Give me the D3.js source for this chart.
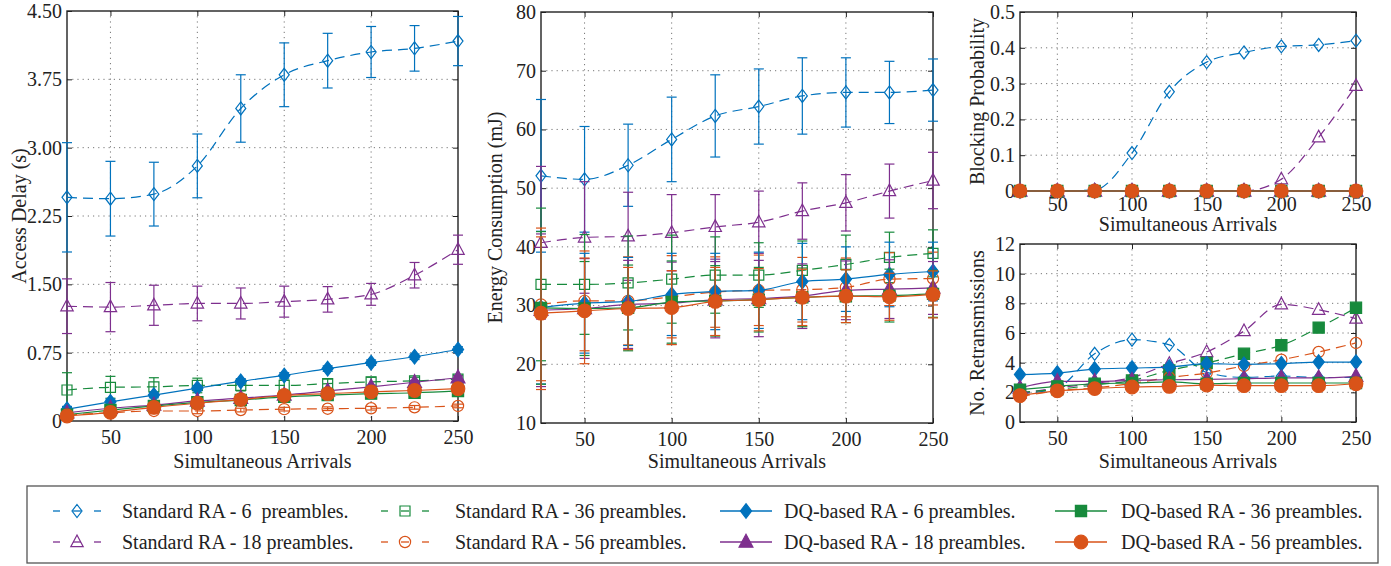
<!DOCTYPE html>
<html>
<head>
<meta charset="utf-8">
<script src="https://cdn.jsdelivr.net/npm/d3@7"></script>
<style>
  body { margin: 0; background: #fff; }
  text { font-family: "Liberation Serif", "Times New Roman", serif; fill: #222; }
</style>
</head>
<body>
<script>
// x values shared by every panel
var arrivals = [25, 50, 75, 100, 125, 150, 175, 200, 225, 250];
var xTicks = [50, 100, 150, 200, 250];

// series order: Std 6, Std 18, Std 36, Std 56, DQ 6, DQ 18, DQ 36, DQ 56
var seriesNames = [
  "Standard RA - 6  preambles.", "Standard RA - 18 preambles.",
  "Standard RA - 36 preambles.", "Standard RA - 56 preambles.",
  "DQ-based RA - 6 preambles.", "DQ-based RA - 18 preambles.",
  "DQ-based RA - 36 preambles.", "DQ-based RA - 56 preambles."
];
var seriesColors = ["#0072BD", "#7E2F8E", "#178A3C", "#D95319", "#0072BD", "#7E2F8E", "#178A3C", "#D95319"];
var seriesMarkers = ["diamond", "triangle", "square", "circle", "diamond", "triangle", "square", "circle"];

// access delay (s)
var delayMean = [
  [2.455, 2.44, 2.49, 2.80, 3.43, 3.80, 3.955, 4.05, 4.09, 4.17],
  [1.26, 1.25, 1.27, 1.29, 1.29, 1.31, 1.335, 1.39, 1.60, 1.88],
  [0.34, 0.37, 0.375, 0.39, 0.39, 0.39, 0.41, 0.43, 0.44, 0.46],
  [0.065, 0.09, 0.11, 0.11, 0.12, 0.13, 0.135, 0.14, 0.15, 0.165],
  [0.13, 0.21, 0.285, 0.36, 0.435, 0.50, 0.575, 0.64, 0.705, 0.785],
  [0.09, 0.14, 0.175, 0.22, 0.25, 0.285, 0.33, 0.375, 0.425, 0.475],
  [0.07, 0.12, 0.165, 0.205, 0.23, 0.265, 0.285, 0.30, 0.31, 0.33],
  [0.055, 0.095, 0.15, 0.195, 0.235, 0.28, 0.30, 0.32, 0.335, 0.355]
];
var delayErr = [
  [0.6, 0.41, 0.35, 0.35, 0.37, 0.35, 0.30, 0.28, 0.25, 0.27],
  [0.3, 0.27, 0.22, 0.19, 0.17, 0.17, 0.14, 0.12, 0.14, 0.16],
  [0.19, 0.12, 0.1, 0.08, 0.06, 0.06, 0.05, 0.05, 0.04, 0.04],
  [0.03, 0.03, 0.03, 0.03, 0.02, 0.02, 0.02, 0.02, 0.02, 0.02],
  [0.03, 0.03, 0.03, 0.03, 0.03, 0.03, 0.03, 0.03, 0.03, 0.03],
  [0.02, 0.02, 0.02, 0.02, 0.02, 0.02, 0.02, 0.02, 0.02, 0.02],
  [0.02, 0.02, 0.02, 0.02, 0.02, 0.02, 0.02, 0.02, 0.02, 0.02],
  [0.02, 0.02, 0.02, 0.02, 0.02, 0.02, 0.02, 0.02, 0.02, 0.02]
];

// energy consumption (mJ)
var energyMean = [
  [52.1, 51.5, 53.9, 58.3, 62.3, 63.9, 65.7, 66.3, 66.3, 66.7],
  [40.7, 41.6, 41.8, 42.4, 43.4, 44.2, 46.1, 47.5, 49.5, 51.3],
  [33.6, 33.6, 33.85, 34.5, 35.2, 35.2, 36.0, 37.0, 38.2, 38.9],
  [30.2, 30.8, 30.8, 31.5, 32.3, 32.6, 32.7, 33.1, 34.5, 34.6],
  [29.65, 30.4, 30.7, 31.9, 32.4, 32.6, 34.1, 34.5, 35.3, 35.8],
  [29.2, 29.5, 30.2, 30.4, 31.0, 31.2, 31.6, 32.6, 32.8, 33.0],
  [29.6, 29.5, 29.6, 30.6, 30.8, 31.0, 31.4, 31.6, 31.7, 32.0],
  [28.7, 29.1, 29.5, 29.65, 30.7, 31.0, 31.4, 31.6, 31.5, 31.9]
];
var energyErr = [
  [13, 9, 7, 7.2, 7, 6.4, 6.5, 5.9, 5.3, 5.3],
  [13, 9.5, 7.5, 6.5, 5.5, 5.3, 4.8, 4.8, 4.6, 4.8],
  [13, 8.5, 8, 7.5, 6.5, 5.5, 5, 5, 4.3, 4],
  [13, 8.5, 7.5, 7, 6, 6, 5.5, 5, 4.5, 4.5],
  [13, 8.5, 7.5, 7, 6.5, 6.5, 6.5, 5.5, 5.5, 5],
  [13, 8.5, 7.5, 7, 6.5, 6.5, 5.5, 5, 5, 4.5],
  [13, 8, 7.3, 7, 6, 5.5, 5, 4.5, 4.5, 4],
  [13, 9, 7, 6.3, 5.8, 5.3, 4.8, 4.5, 4, 4]
];

// blocking probability
var blockMean = [
  [0, 0, 0.003, 0.106, 0.277, 0.36, 0.387, 0.404, 0.408, 0.42],
  [0, 0, 0, 0, 0, 0, 0, 0.033, 0.15, 0.294],
  [0, 0, 0, 0, 0, 0, 0, 0, 0, 0],
  [0, 0, 0, 0, 0, 0, 0, 0, 0, 0],
  [0, 0, 0, 0, 0, 0, 0, 0, 0, 0],
  [0, 0, 0, 0, 0, 0, 0, 0, 0, 0],
  [0, 0, 0, 0, 0, 0, 0, 0, 0, 0],
  [0, 0, 0, 0, 0, 0, 0, 0, 0, 0]
];

// number of retransmissions
var retxMean = [
  [1.9, 2.3, 4.6, 5.55, 5.2, 3.35, 3.0, 3.1, 3.0, 3.0],
  [1.9, 2.3, 2.6, 3.0, 3.93, 4.72, 6.13, 7.93, 7.57, 6.97],
  [2.0, 2.2, 2.5, 2.8, 3.48, 3.98, 4.6, 5.17, 6.36, 7.7],
  [1.7, 2.1, 2.3, 2.6, 3.0, 3.3, 3.78, 4.2, 4.72, 5.33],
  [3.2, 3.3, 3.57, 3.64, 3.7, 3.93, 3.89, 3.93, 4.04, 4.04],
  [2.3, 2.74, 2.74, 2.8, 2.85, 2.87, 2.92, 2.97, 2.97, 3.08],
  [2.18, 2.4, 2.58, 2.63, 2.7, 2.58, 2.63, 2.63, 2.63, 2.63],
  [1.78, 2.1, 2.25, 2.36, 2.4, 2.49, 2.45, 2.45, 2.45, 2.58]
];

var W = 1391, H = 566;
var svg = d3.select("body").append("svg").attr("width", W).attr("height", H);

function markerPath(kind, filled) {
  var p = d3.path();
  var k = filled ? 1.12 : 1;
  if (kind === "diamond") {
    p.moveTo(0, -6.5 * k); p.lineTo(5 * k, 0); p.lineTo(0, 6.5 * k); p.lineTo(-5 * k, 0); p.closePath();
  } else if (kind === "triangle") {
    p.moveTo(0, -7 * k); p.lineTo(6.2 * k, 4.6 * k); p.lineTo(-6.2 * k, 4.6 * k); p.closePath();
  } else if (kind === "square") {
    p.rect(-5 * k, -5 * k, 10 * k, 10 * k);
  } else {
    var r = filled ? 6.8 : 5.6;
    p.moveTo(r, 0); p.arc(0, 0, r, 0, 2 * Math.PI);
  }
  return p.toString();
}

function drawMarker(g, kind, filled, color, cx, cy) {
  g.append("path")
    .attr("d", markerPath(kind, filled))
    .attr("transform", "translate(" + cx + "," + cy + ")")
    .attr("fill", filled ? color : "none")
    .attr("stroke", color)
    .attr("stroke-width", 1.2);
}

function panel(o) {
  var g = svg.append("g");
  var x = d3.scaleLinear().domain([25, 250]).range([o.left, o.right]);
  var y = d3.scaleLinear().domain(o.yDomain).range([o.bottom, o.top]);

  // dotted grid
  g.selectAll(".gx").data(xTicks.filter(function (t) { return t < 250; })).enter().append("line")
    .attr("x1", function (d) { return x(d); }).attr("x2", function (d) { return x(d); })
    .attr("y1", o.top).attr("y2", o.bottom)
    .attr("stroke", "#777").attr("stroke-width", 1).attr("stroke-dasharray", "1.2,4");
  g.selectAll(".gy").data(o.yTicks.slice(1, -1)).enter().append("line")
    .attr("y1", function (d) { return y(d); }).attr("y2", function (d) { return y(d); })
    .attr("x1", o.left).attr("x2", o.right)
    .attr("stroke", "#777").attr("stroke-width", 1).attr("stroke-dasharray", "1.2,4");

  // axes with inward ticks on all sides
  var ax = [
    g.append("g").attr("transform", "translate(0," + o.bottom + ")")
      .call(d3.axisBottom(x).tickValues(xTicks).tickSizeInner(-5).tickSizeOuter(0).tickPadding(o.xPad)),
    g.append("g").attr("transform", "translate(0," + o.top + ")")
      .call(d3.axisTop(x).tickValues(xTicks).tickSizeInner(-5).tickSizeOuter(0).tickFormat("")),
    g.append("g").attr("transform", "translate(" + o.left + ",0)")
      .call(d3.axisLeft(y).tickValues(o.yTicks).tickFormat(o.yFmt).tickSizeInner(-5).tickSizeOuter(0).tickPadding(5)),
    g.append("g").attr("transform", "translate(" + o.right + ",0)")
      .call(d3.axisRight(y).tickValues(o.yTicks).tickSizeInner(-5).tickSizeOuter(0).tickFormat(""))
  ];
  ax.forEach(function (a) {
    a.select(".domain").remove();
    a.selectAll("line").attr("stroke", "#222").attr("stroke-width", 1);
    a.selectAll("text").style("font-size", "20px").style("font-family", "Liberation Serif, serif").attr("fill", "#222");
  });

  g.append("rect").attr("x", o.left).attr("y", o.top)
    .attr("width", o.right - o.left).attr("height", o.bottom - o.top)
    .attr("fill", "none").attr("stroke", "#222").attr("stroke-width", 1.4);

  // series
  o.mean.forEach(function (vals, i) {
    var color = seriesColors[i];
    var dq = i >= 4;
    var pts = arrivals.map(function (a, j) { return [x(a), y(vals[j])]; });
    var line = d3.line().curve(d3.curveMonotoneX);
    g.append("path").attr("d", line(pts))
      .attr("fill", "none").attr("stroke", color).attr("stroke-width", 1.2)
      .attr("stroke-dasharray", dq ? null : "10,6");
    if (o.err) {
      arrivals.forEach(function (a, j) {
        var e = o.err[i][j], cx = x(a);
        var y1 = y(vals[j] - e), y2 = y(vals[j] + e);
        g.append("line").attr("x1", cx).attr("x2", cx).attr("y1", y1).attr("y2", y2)
          .attr("stroke", color).attr("stroke-width", 1.2);
        [y1, y2].forEach(function (yy) {
          g.append("line").attr("x1", cx - 5).attr("x2", cx + 5).attr("y1", yy).attr("y2", yy)
            .attr("stroke", color).attr("stroke-width", 1.2);
        });
      });
    }
    var filled = dq || (o.filledStd36 && i === 2);
    pts.forEach(function (p) { drawMarker(g, seriesMarkers[i], filled, color, p[0], p[1]); });
  });

  // labels
  g.append("text").attr("transform", "translate(" + o.yLabelX + "," + ((o.top + o.bottom) / 2) + ") rotate(-90)")
    .attr("text-anchor", "middle").attr("dominant-baseline", "central")
    .style("font-size", "20px").text(o.yLabel);
  g.append("text").attr("x", (o.left + o.right) / 2).attr("y", o.xLabelY)
    .attr("text-anchor", "middle").attr("dominant-baseline", "central")
    .style("font-size", "20px").text("Simultaneous Arrivals");
}

panel({ left: 67, right: 458, top: 11, bottom: 421, yDomain: [0, 4.5],
  yTicks: [0, 0.75, 1.5, 2.25, 3, 3.75, 4.5],
  yFmt: function (d) { return d === 0 ? "0" : d.toFixed(2); },
  yLabel: "Access Delay (s)", yLabelX: 19, xLabelY: 461, xPad: 9,
  mean: delayMean, err: delayErr });

panel({ left: 541, right: 933, top: 12, bottom: 423, yDomain: [10, 80],
  yTicks: [10, 20, 30, 40, 50, 60, 70, 80],
  yFmt: function (d) { return d; },
  yLabel: "Energy Consumption (mJ)", yLabelX: 495, xLabelY: 461, xPad: 9,
  mean: energyMean, err: energyErr });

panel({ left: 1020, right: 1356, top: 12, bottom: 191, yDomain: [0, 0.5],
  yTicks: [0, 0.1, 0.2, 0.3, 0.4, 0.5],
  yFmt: function (d) { return d === 0 ? "0" : d.toFixed(1); },
  yLabel: "Blocking Probability", yLabelX: 977, xLabelY: 224, xPad: 6,
  mean: blockMean, err: null });

panel({ left: 1020, right: 1356, top: 244, bottom: 422, yDomain: [0, 12],
  yTicks: [0, 2, 4, 6, 8, 10, 12],
  yFmt: function (d) { return d; },
  yLabel: "No. Retransmissions", yLabelX: 977, xLabelY: 461, xPad: 9,
  mean: retxMean, err: null, filledStd36: true });

// legend
var lg = svg.append("g");
lg.append("rect").attr("x", 27).attr("y", 486).attr("width", 1351).attr("height", 77)
  .attr("fill", "#fff").attr("stroke", "#555").attr("stroke-width", 1.3);
var legMarkX = [77, 405, 746, 1081];
var legTextX = [122, 455, 784, 1121];
var legRowY = [511, 542];
seriesNames.forEach(function (name, i) {
  var col = Math.floor(i / 2), row = i % 2;
  var cx = legMarkX[col], cy = legRowY[row], color = seriesColors[i];
  var dq = i >= 4;
  if (dq) {
    lg.append("line").attr("x1", cx - 26).attr("x2", cx + 26).attr("y1", cy).attr("y2", cy)
      .attr("stroke", color).attr("stroke-width", 1.3);
  } else {
    [[-24, -17], [-4, 4], [17, 24]].forEach(function (s) {
      lg.append("line").attr("x1", cx + s[0]).attr("x2", cx + s[1]).attr("y1", cy).attr("y2", cy)
        .attr("stroke", color).attr("stroke-width", 1.3);
    });
  }
  drawMarker(lg, seriesMarkers[i], dq, color, cx, cy);
  lg.append("text").attr("x", legTextX[col]).attr("y", cy)
    .attr("dominant-baseline", "central").style("font-size", "20px").style("white-space", "pre")
    .text(name);
});
</script>
</body>
</html>
